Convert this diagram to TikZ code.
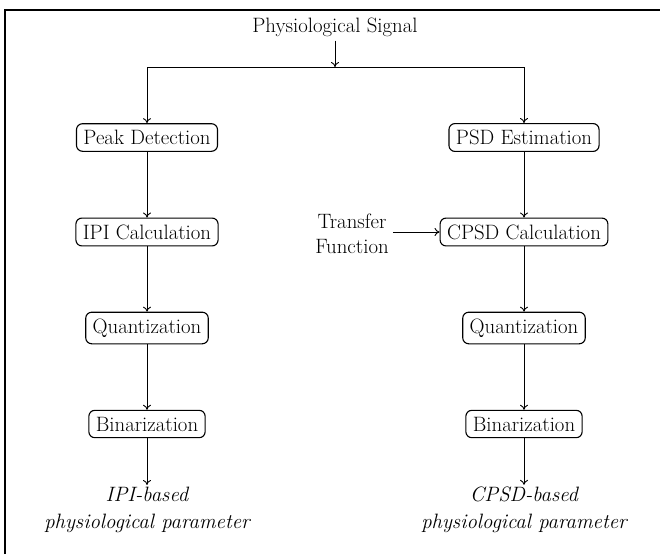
\documentclass[tikz,border=0pt]{standalone}
\usepackage{fontspec}
\usetikzlibrary{arrows.meta}
\begin{document}
\begin{tikzpicture}[x=1pt,y=-1pt,
  every node/.style={font=\rmfamily\fontsize{20.8}{25}\selectfont},
  box/.style={draw, line width=1.1pt, rounded corners=6pt, inner xsep=7pt, inner ysep=6.5pt},
  plain/.style={inner sep=4pt, align=center},
  outtext/.style={inner sep=2pt, align=center, font=\rmfamily\fontsize{20.8}{27}\selectfont\itshape},
  arr/.style={line width=0.9pt, -{To[length=5pt,width=8pt]}},
  frameline/.style={line width=2pt}]
\useasboundingbox (0,0) rectangle (660,554);
\draw[frameline] (4.5,554) -- (4.5,9.5) -- (660,9.5);
\node[plain] (sig) at (335,27) {Physiological Signal};
\coordinate (split) at (335,67);
\node[box] (pd) at (147,137.5) {Peak Detection};
\node[box] (psd) at (524,137.5) {PSD Estimation};
\node[box] (ipi) at (147,232) {IPI Calculation};
\node[box] (cpsd) at (524,232) {CPSD Calculation};
\node[plain] (tf) at (352,234) {Transfer\\Function};
\node[box] (q1) at (147,328) {Quantization};
\node[box] (q2) at (524,328) {Quantization};
\node[box] (b1) at (147,424) {Binarization};
\node[box] (b2) at (524,424) {Binarization};
\node[outtext] (o1) at (147,510) {IPI-based\\physiological parameter};
\node[outtext] (o2) at (524,510) {CPSD-based\\physiological parameter};
\draw[arr] (sig) -- (split);
\draw[arr] (split) -| (pd.north);
\draw[arr] (split) -| (psd.north);
\draw[arr] (pd) -- (ipi);
\draw[arr] (ipi) -- (q1);
\draw[arr] (q1) -- (b1);
\draw[arr] (b1) -- (o1);
\draw[arr] (psd) -- (cpsd);
\draw[arr] (cpsd) -- (q2);
\draw[arr] (q2) -- (b2);
\draw[arr] (b2) -- (o2);
\draw[arr] (tf.east |- cpsd) -- (cpsd.west);
\end{tikzpicture}
\end{document}
